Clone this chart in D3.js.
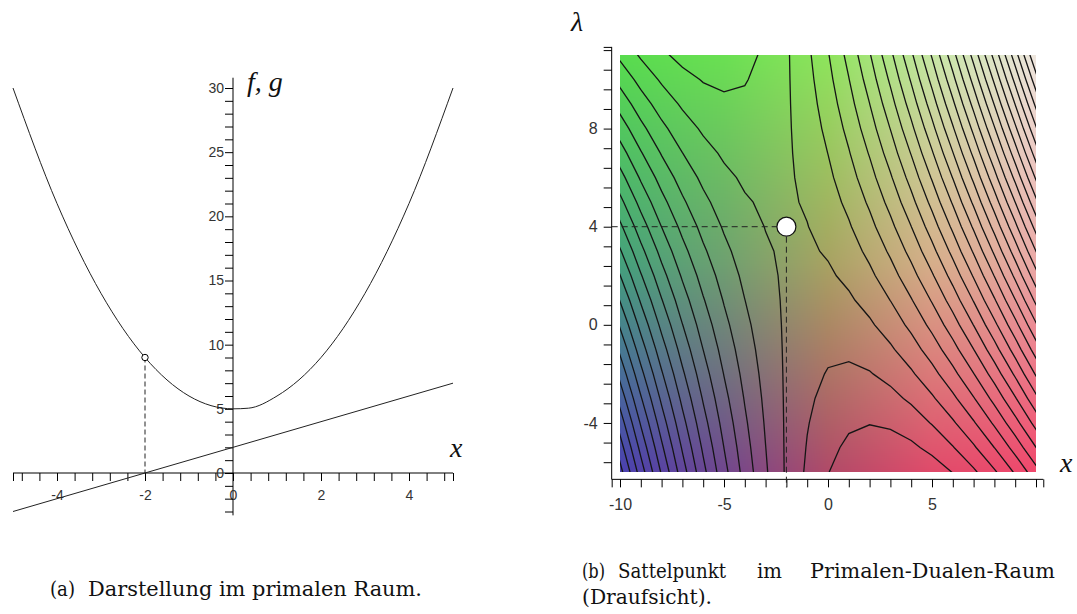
<!DOCTYPE html>
<html>
<head>
<meta charset="utf-8">
<script src="https://cdn.jsdelivr.net/npm/d3@7"></script>
<style>
  body { margin: 0; background: #fff; }
  svg { display: block; }
  .axis-a .tick text { font-family: "Liberation Sans", Arial, sans-serif; font-size: 14px; fill: #333; }
  .axis-b .tick text { font-family: "Liberation Sans", Arial, sans-serif; font-size: 16px; fill: #333; }
  .math { font-family: "Liberation Serif", serif; font-style: italic; font-size: 28px; fill: #111; }
  .caption { font-family: "DejaVu Serif", serif; font-size: 19.5px; fill: #111; }
</style>
</head>
<body>
<div id="chart"></div>
<script>
// ---- panel (a): f and g ----
const fX = [-5, -4, -3, -2, -1, 0, 0.35, 1, 2, 3, 4, 5];
const fY = [30, 21, 14, 9, 6, 5, 5.05, 6, 9, 14, 21, 30];
const gX = [-5, 5];
const gY = [-3, 7];
const pointA = [-2, 9];
const xLabelsA = [-4, -2, 0, 2, 4];
const yLabelsA = [0, 5, 10, 15, 20, 25, 30];

// ---- panel (b): f and g on the grid columns, lambda on the grid rows ----
const gridX = [-12, -11, -10, -9, -8, -7, -6, -5, -4, -3, -2, -1, 0, 1, 2, 3, 4, 5, 6, 7, 8, 9, 10, 11, 12];
const fGrid = [149, 126, 105, 86, 69, 54, 41, 30, 21, 14, 9, 6, 5, 6, 9, 14, 21, 30, 41, 54, 69, 86, 105, 126, 149];
const gGrid = [-10, -9, -8, -7, -6, -5, -4, -3, -2, -1, 0, 1, 2, 3, 4, 5, 6, 7, 8, 9, 10, 11, 12, 13, 14];
const gridLambda = [-8, -7, -6, -5, -4, -3, -2, -1, 0, 1, 2, 3, 4, 5, 6, 7, 8, 9, 10, 11, 12, 13];
const contourLevels = [-7.3, 1.5, 10.2, 18.9, 27.6, 36.3, 45.1, 53.8, 62.5, 71.2, 80.0, 88.7, 97.4, 106.1,
                       114.9, 123.6, 132.3, 141.0, 149.8, 158.5, 167.2, 175.9, 184.7, 193.4, 202.1, 210.8, 219.6, 228.3];
const saddle = [-2, 4];
const xLabelsB = [-10, -5, 0, 5];
const yLabelsB = [-4, 0, 4, 8];
// background colours read at these x / lambda positions
const bgX = [-10, -5, 0, 5, 10];
const bgLambda = [11, 2.5, -6];
const bgColors = [
    ["#58dc4e", "#6ae052", "#8ee45c", "#c6e6a4", "#eee6de"],
    ["#44a07c", "#6ea070", "#a8a262", "#d6ae8a", "#eaa8a6"],
    ["#4a40b0", "#70468e", "#b04a68", "#e04a6a", "#f0486c"]
];

const svg = d3.select("#chart").append("svg")
    .attr("width", 1077)
    .attr("height", 614);

const near = (list, d) => list.some(v => Math.abs(v - d) < 1e-6);

// =================== panel (a) ===================
const xA = d3.scaleLinear().domain([-5, 5]).range([13, 453]);
const yA = d3.scaleLinear().domain([0, 30]).range([473, 88]);
const gA = svg.append("g");

// axis lines
gA.append("line")
    .attr("x1", xA(-5)).attr("x2", xA(5))
    .attr("y1", yA(0)).attr("y2", yA(0))
    .attr("stroke", "#000");
gA.append("line")
    .attr("x1", xA(0)).attr("x2", xA(0))
    .attr("y1", yA(-3.3)).attr("y2", yA(30.8))
    .attr("stroke", "#000");

// ticks every 0.4 on x, every 1 on y
const xTicksA = d3.range(-12, 13).map(k => +(k * 0.4).toFixed(2)).concat([-5, 5]);
gA.append("g")
    .attr("class", "axis-a")
    .attr("transform", `translate(0,${yA(0)})`)
    .call(d3.axisBottom(xA)
        .tickValues(xTicksA)
        .tickSize(8)
        .tickPadding(9)
        .tickFormat(d => near(xLabelsA, d) ? String(Math.round(d)) : ""))
    .call(g => g.select(".domain").remove());

gA.append("g")
    .attr("class", "axis-a")
    .attr("transform", `translate(${xA(0)},0)`)
    .call(d3.axisLeft(yA)
        .tickValues(d3.range(-3, 31))
        .tickSize(8)
        .tickPadding(1)
        .tickFormat(d => near(yLabelsA, d) ? String(d) : ""))
    .call(g => g.select(".domain").remove());

// f (parabola) and g (line)
gA.append("path")
    .attr("d", d3.line()
        .x(d => xA(d[0]))
        .y(d => yA(d[1]))
        .curve(d3.curveMonotoneX)(d3.zip(fX, fY)))
    .attr("fill", "none")
    .attr("stroke", "#222")
    .attr("stroke-width", 1);

gA.append("path")
    .attr("d", d3.line()
        .x(d => xA(d[0]))
        .y(d => yA(d[1]))(d3.zip(gX, gY)))
    .attr("fill", "none")
    .attr("stroke", "#222")
    .attr("stroke-width", 1);

// dashed drop line and marker
gA.append("line")
    .attr("x1", xA(pointA[0])).attr("x2", xA(pointA[0]))
    .attr("y1", yA(pointA[1])).attr("y2", yA(0))
    .attr("stroke", "#222")
    .attr("stroke-dasharray", "5,3");
gA.append("circle")
    .attr("cx", xA(pointA[0])).attr("cy", yA(pointA[1]))
    .attr("r", 3.2)
    .attr("fill", "#fff")
    .attr("stroke", "#000");

gA.append("text").attr("class", "math").attr("x", 247).attr("y", 91).text("f, g");
gA.append("text").attr("class", "math").attr("x", 450).attr("y", 457).text("x");

// =================== panel (b) ===================
const xB = d3.scaleLinear().domain([-10, 10]).range([620, 1036]);
const yB = d3.scaleLinear().domain([-6, 11]).range([472, 55]);
const gB = svg.append("g");

// colour background drawn into a canvas, then placed as an image
const x0 = xB(-10), y0 = yB(11);
const bw = Math.round(xB(10) - x0), bh = Math.round(yB(-6) - y0);
const canvas = document.createElement("canvas");
canvas.width = bw;
canvas.height = bh;
const ctx = canvas.getContext("2d");
const img = ctx.createImageData(bw, bh);
const rgbGrid = bgColors.map(row => row.map(c => d3.rgb(c)));
const colIdx = d3.scaleLinear().domain(bgX).range(d3.range(bgX.length)).clamp(true);
const rowIdx = d3.scaleLinear().domain(bgLambda).range(d3.range(bgLambda.length)).clamp(true);
for (let py = 0; py < bh; py++) {
    const r = rowIdx(yB.invert(y0 + py + 0.5));
    const j = Math.min(Math.floor(r), bgLambda.length - 2), tv = r - j;
    for (let px = 0; px < bw; px++) {
        const c = colIdx(xB.invert(x0 + px + 0.5));
        const i = Math.min(Math.floor(c), bgX.length - 2), tu = c - i;
        const a = rgbGrid[j][i], b = rgbGrid[j][i + 1], e = rgbGrid[j + 1][i], f = rgbGrid[j + 1][i + 1];
        const k = (py * bw + px) * 4;
        ["r", "g", "b"].forEach((ch, n) => {
            const top = a[ch] + (b[ch] - a[ch]) * tu;
            const bot = e[ch] + (f[ch] - e[ch]) * tu;
            img.data[k + n] = top + (bot - top) * tv;
        });
        img.data[k + 3] = 255;
    }
}
ctx.putImageData(img, 0, 0);

gB.append("image")
    .attr("x", x0).attr("y", y0)
    .attr("width", bw).attr("height", bh)
    .attr("preserveAspectRatio", "none")
    .attr("href", canvas.toDataURL());

// contour lines of L(x, lambda) = f(x) + lambda * g(x)
const values = [];
gridLambda.forEach(l => fGrid.forEach((fv, i) => values.push(fv + l * gGrid[i])));
const contours = d3.contours()
    .size([gridX.length, gridLambda.length])
    .thresholds(contourLevels)(values);

const toPlot = d3.geoTransform({
    point(x, y) {
        this.stream.point(xB(gridX[0] + x - 0.5), yB(gridLambda[0] + y - 0.5));
    }
});

svg.append("defs").append("clipPath")
    .attr("id", "plot-clip")
    .append("rect")
    .attr("x", x0).attr("y", y0)
    .attr("width", bw).attr("height", bh);

gB.append("g")
    .attr("clip-path", "url(#plot-clip)")
    .selectAll("path")
    .data(contours)
    .join("path")
    .attr("d", d3.geoPath(toPlot))
    .attr("fill", "none")
    .attr("stroke", "#151515")
    .attr("stroke-width", 1.3);

// axes
gB.append("line")
    .attr("x1", xB(-10.4)).attr("x2", xB(10.35))
    .attr("y1", yB(-6.3)).attr("y2", yB(-6.3))
    .attr("stroke", "#000");
gB.append("line")
    .attr("x1", xB(-10.4)).attr("x2", xB(-10.4))
    .attr("y1", yB(-6.3)).attr("y2", yB(11.33))
    .attr("stroke", "#000");

gB.append("g")
    .attr("class", "axis-b")
    .attr("transform", `translate(0,${yB(-6.3)})`)
    .call(d3.axisBottom(xB)
        .tickValues(d3.range(-10, 11).concat([-10.4, 10.35]))
        .tickSize(8)
        .tickPadding(11)
        .tickFormat(d => near(xLabelsB, d) ? String(d) : ""))
    .call(g => g.select(".domain").remove());

gB.append("g")
    .attr("class", "axis-b")
    .attr("transform", `translate(${xB(-10.4)},0)`)
    .call(d3.axisLeft(yB)
        .tickValues(d3.range(-7, 15).map(k => +(k * 0.8).toFixed(2)).concat([11.33]))
        .tickSize(8)
        .tickPadding(6)
        .tickFormat(d => near(yLabelsB, d) ? String(Math.round(d)) : ""))
    .call(g => g.select(".domain").remove());

// dashed guides to the saddle point
gB.append("line")
    .attr("x1", xB(-10.4)).attr("x2", xB(saddle[0]))
    .attr("y1", yB(saddle[1])).attr("y2", yB(saddle[1]))
    .attr("stroke", "#222")
    .attr("stroke-dasharray", "6,4");
gB.append("line")
    .attr("x1", xB(saddle[0])).attr("x2", xB(saddle[0]))
    .attr("y1", yB(saddle[1])).attr("y2", yB(-6.3) + 8)
    .attr("stroke", "#222")
    .attr("stroke-dasharray", "6,4");
gB.append("circle")
    .attr("cx", xB(saddle[0])).attr("cy", yB(saddle[1]))
    .attr("r", 9.5)
    .attr("fill", "#fff")
    .attr("stroke", "#111")
    .attr("stroke-width", 1.2);

gB.append("text").attr("class", "math").attr("x", 571).attr("y", 31).text("λ");
gB.append("text").attr("class", "math").attr("x", 1060).attr("y", 472).text("x");

// =================== captions ===================
const captions = [
    { text: "(a)", x: 50, y: 596, len: 25 },
    { text: "Darstellung im primalen Raum.", x: 88, y: 596, len: 334 },
    { text: "(b)", x: 582, y: 578, len: 23 },
    { text: "Sattelpunkt", x: 618, y: 578, len: 108 },
    { text: "im", x: 757, y: 578, len: 25 },
    { text: "Primalen-Dualen-Raum", x: 810, y: 578, len: 245 },
    { text: "(Draufsicht).", x: 582, y: 604, len: 130 }
];
svg.append("g")
    .selectAll("text")
    .data(captions)
    .join("text")
    .attr("class", "caption")
    .attr("x", d => d.x)
    .attr("y", d => d.y)
    .attr("textLength", d => d.len)
    .attr("lengthAdjust", "spacingAndGlyphs")
    .text(d => d.text);
</script>
</body>
</html>
